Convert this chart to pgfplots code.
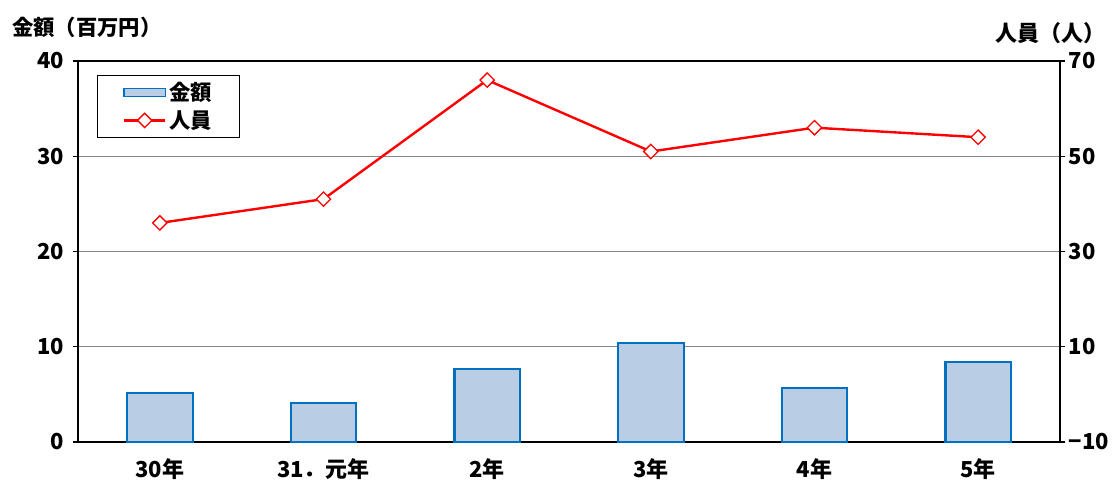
\documentclass[border=0pt]{standalone}
\usepackage{fontspec}
\setmainfont{Noto Sans CJK JP}
\usepackage{pgfplots}
\pgfplotsset{compat=1.18}
\definecolor{barfill}{RGB}{185,205,228}
\definecolor{barline}{RGB}{0,112,192}
\definecolor{gridgray}{RGB}{135,135,135}
\pgfplotsset{
  mylineleg/.style={legend image code/.code={\draw[mark repeat=2,mark phase=2,##1] plot coordinates {(0pt,0pt)(15.5pt,0pt)(31pt,0pt)};}},
  common/.style={scale only axis, width=736.5pt, height=285.75pt,
    at={(0,0)}, anchor=south west, xmin=-0.5, xmax=5.5,
    axis line style={line width=1.3pt},
    /pgf/number format/assume math mode=true,
    tick label style={font=\bfseries\fontsize{16.5}{19}\selectfont},
    tick style={black, line width=0.8pt},
  }
}
\begin{document}
\begin{tikzpicture}[font=\bfseries\fontsize{16.5}{19}\selectfont]
\path[use as bounding box] (-58.5pt,-30pt) rectangle (775.5pt,331.5pt);
\begin{axis}[common, ymin=0, ymax=40, ytick={0,10,20,30,40},
  ytick pos=left, xtick pos=bottom,
  ymajorgrids, grid style={gridgray, line width=0.9pt},
  yticklabel style={xshift=-3pt},
  tick align=outside, major tick length=4pt,
  xtick={0,...,5}, xticklabels={30年,31．元年,2年,3年,4年,5年},
  xticklabel style={yshift=-5pt},
  x tick style={draw=none},
  extra x ticks={0.5,1.5,2.5,3.5,4.5}, extra x tick labels={},
  extra x tick style={tick align=inside, major tick length=5pt, tick style={draw=black, line width=0.8pt}, grid=none},
  ybar, bar width=0.4,
]
\addplot[fill=barfill, draw=barline, line width=1.6pt] coordinates {
  (0,5.1) (1,4.1) (2,7.7) (3,10.4) (4,5.7) (5,8.4)};
\end{axis}
\begin{axis}[common, ymin=-10, ymax=70, ytick={-10,10,30,50,70},
  yticklabels={−10,10,30,50,70},
  axis x line=none, axis y line*=right,
  tick align=outside, major tick length=4pt,
  yticklabel style={xshift=-1pt},
  legend style={at={(axis description cs:0.0194,0.963)}, anchor=north west,
    draw=black, line width=0.6pt, inner xsep=19pt, inner ysep=3pt,
    font=\bfseries\fontsize{16}{19}\selectfont, row sep=2pt},
  legend cell align=left,
]
\addlegendimage{legend image code/.code={\draw[fill=barfill,draw=barline,line width=1.2pt] (0pt,-3pt) rectangle (31pt,3pt);}}
\addlegendentry{金額}
\addplot[red, line width=1.8pt, mark=square*, mark size=3.8pt,
  mark options={rotate=45, fill=white, draw=red, line width=1pt}, mylineleg]
  coordinates {(0,36) (1,41) (2,66) (3,51) (4,56) (5,54)};
\addlegendentry{人員}
\end{axis}
\node[anchor=west, inner sep=0pt, font=\bfseries\fontsize{16}{19}\selectfont] at (-49.5pt,311.25pt) {金額（百万円）};
\node[anchor=east, inner sep=0pt, font=\bfseries\fontsize{16.5}{19}\selectfont] at (771pt,306.75pt) {人員（人）};
\end{tikzpicture}
\end{document}
